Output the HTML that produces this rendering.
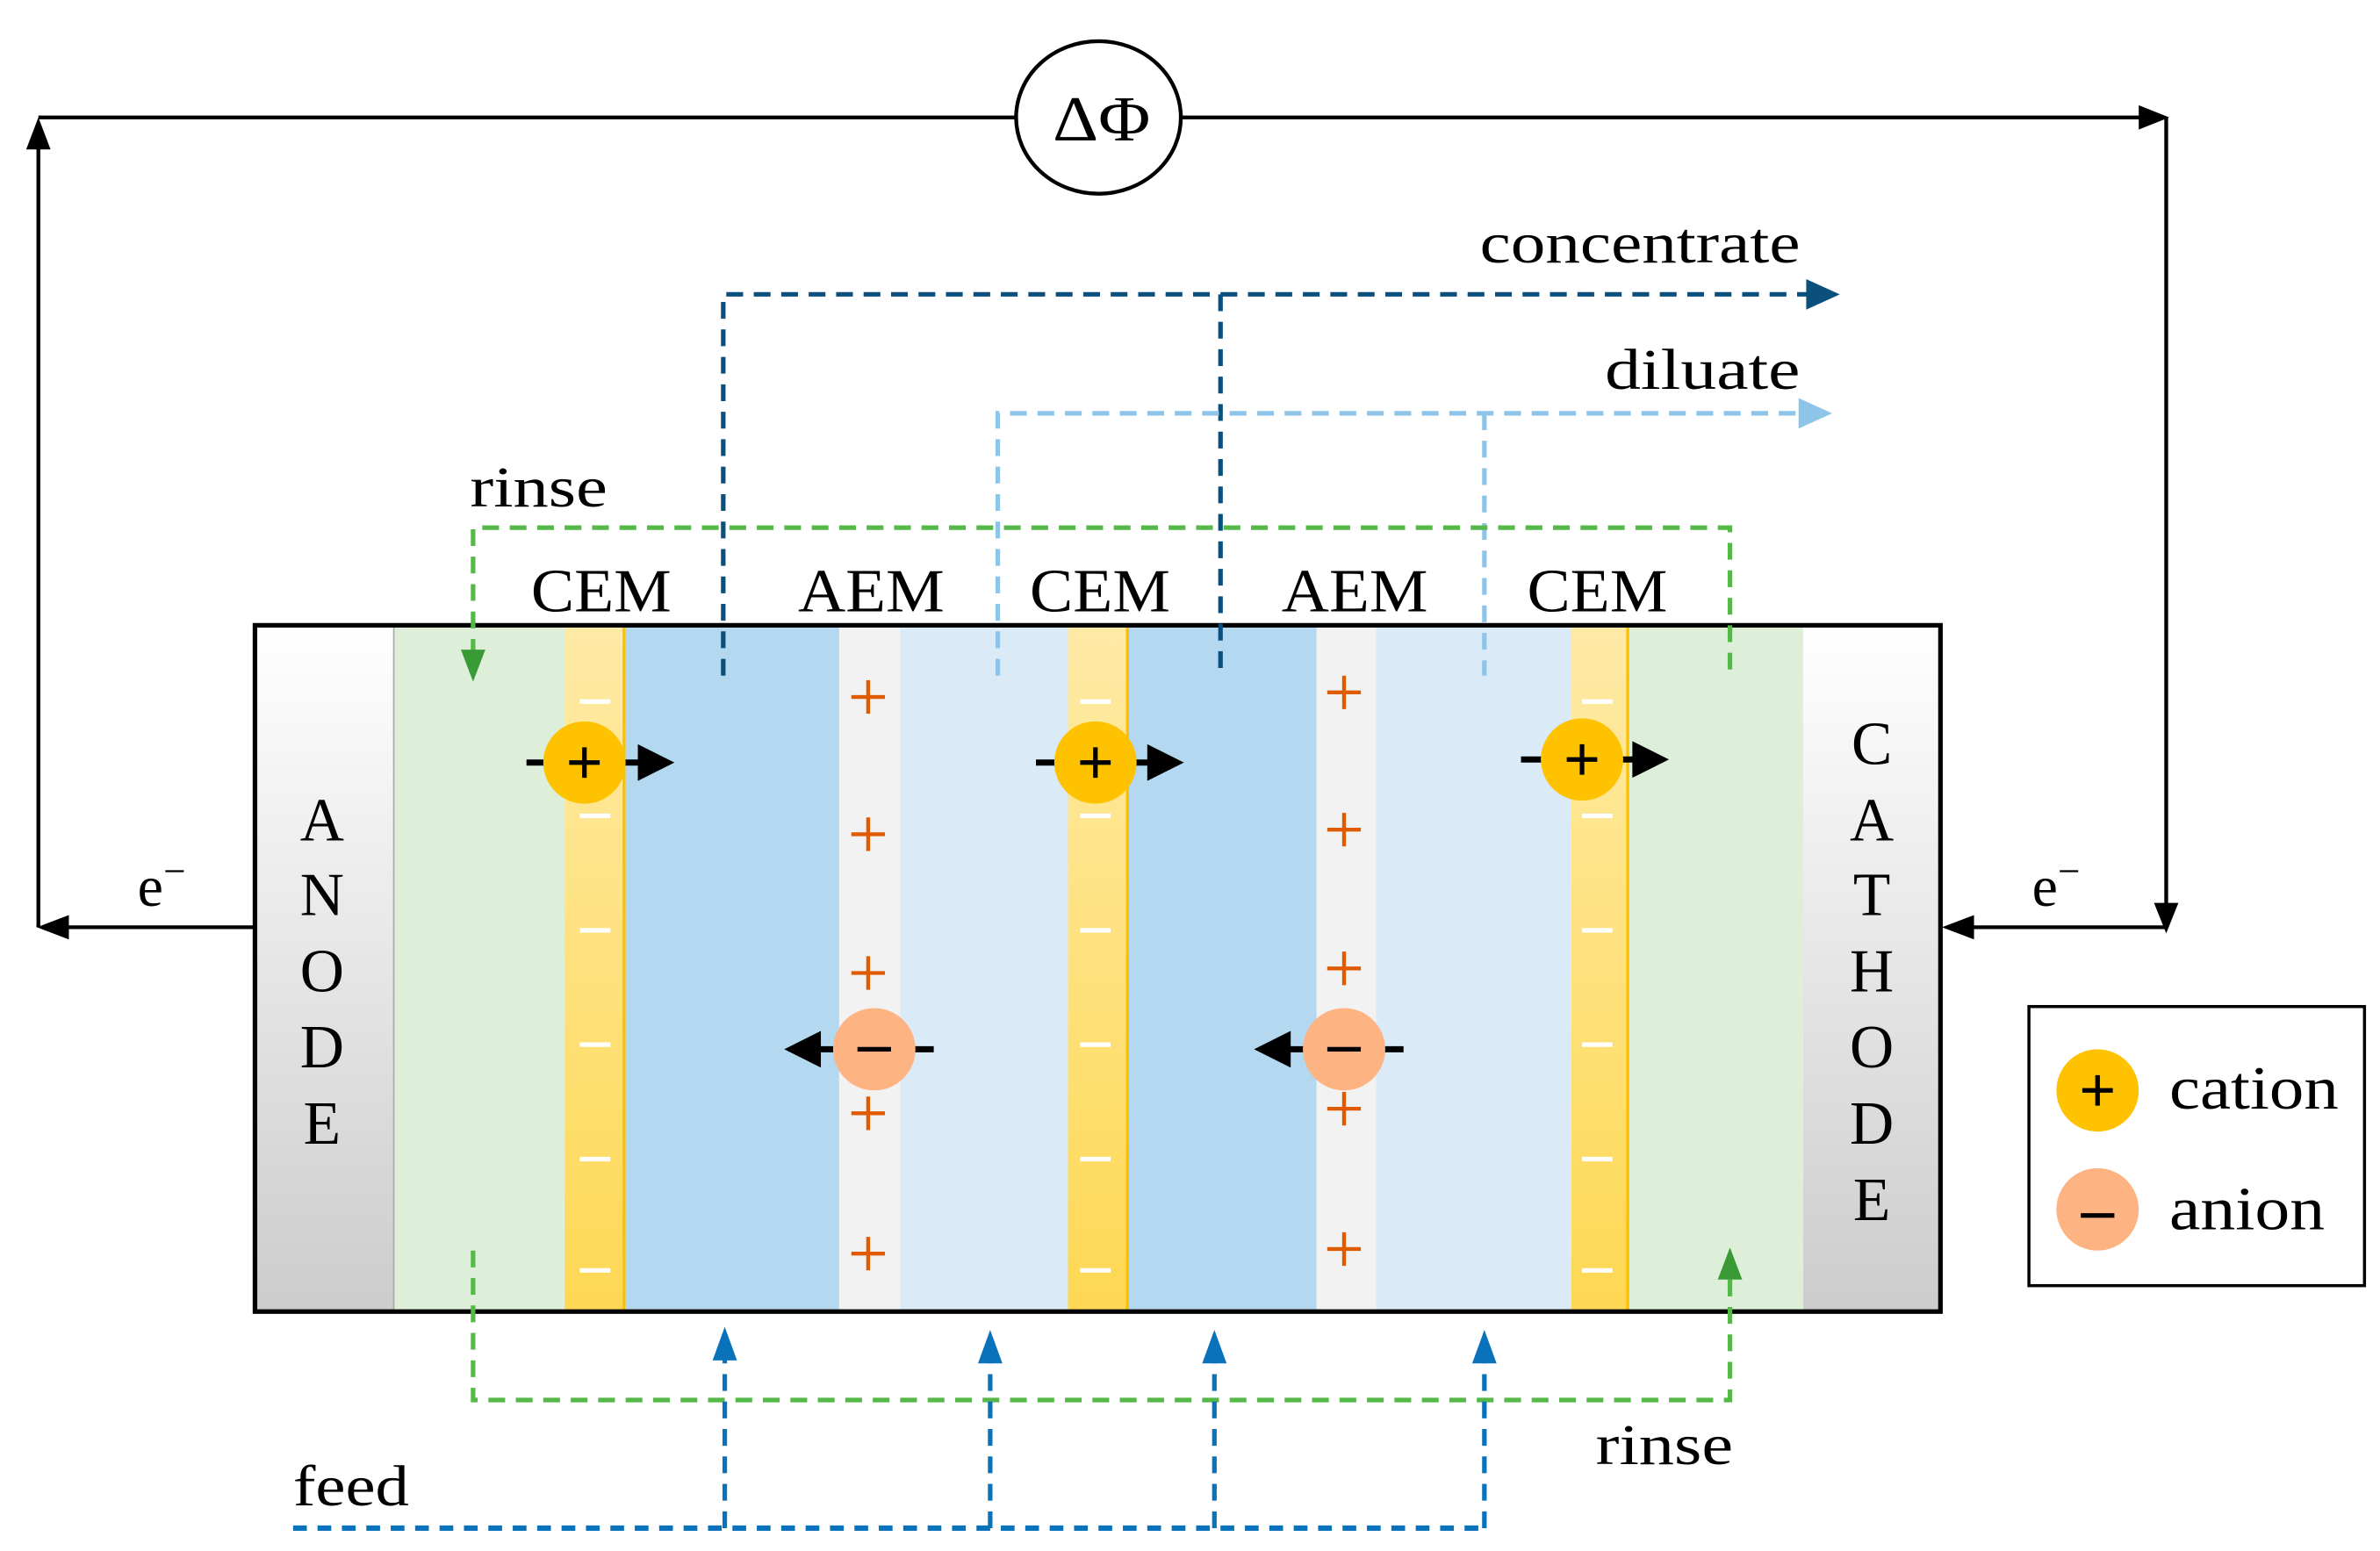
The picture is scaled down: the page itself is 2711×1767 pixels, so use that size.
<!DOCTYPE html>
<html><head><meta charset="utf-8"><style>
html,body{margin:0;padding:0;background:#fff;}
svg{display:block;}
text{font-family:"Liberation Serif",serif;}
</style></head><body>
<svg width="2711" height="1767" viewBox="0 0 1560 1017" xmlns="http://www.w3.org/2000/svg">
<defs>
<linearGradient id="gE" x1="0" y1="0" x2="0" y2="1"><stop offset="0" stop-color="#ffffff"/><stop offset="1" stop-color="#cccccc"/></linearGradient>
<linearGradient id="gY" x1="0" y1="0" x2="0" y2="1"><stop offset="0" stop-color="#feeaa6"/><stop offset="1" stop-color="#fed853"/></linearGradient>
</defs>
<!-- cell -->
<rect x="167" y="410" width="91" height="450" fill="url(#gE)"/>
<rect x="258" y="410" width="112" height="450" fill="#ddefd9"/>
<rect x="370" y="410" width="40" height="450" fill="url(#gY)"/>
<rect x="408" y="410" width="2" height="450" fill="#fdc000"/>
<rect x="410" y="410" width="140" height="450" fill="#b4d8ef"/>
<rect x="550" y="410" width="40" height="450" fill="#f2f2f2"/>
<rect x="590" y="410" width="110" height="450" fill="#daebf7"/>
<rect x="700" y="410" width="40" height="450" fill="url(#gY)"/>
<rect x="738" y="410" width="2" height="450" fill="#fdc000"/>
<rect x="740" y="410" width="123" height="450" fill="#b4d8ef"/>
<rect x="863" y="410" width="39" height="450" fill="#f2f2f2"/>
<rect x="902" y="410" width="128" height="450" fill="#daebf7"/>
<rect x="1030" y="410" width="38" height="450" fill="url(#gY)"/>
<rect x="1066" y="410" width="2" height="450" fill="#fdc000"/>
<rect x="1068" y="410" width="114" height="450" fill="#ddefd9"/>
<rect x="1182" y="410" width="90" height="450" fill="url(#gE)"/>
<line x1="258" y1="410" x2="258" y2="860" stroke="#aaa" stroke-width="1"/>
<rect x="167" y="410" width="1105" height="450" fill="none" stroke="#000" stroke-width="3"/>
<!-- minus signs on CEMs -->
<g stroke="#fff" stroke-width="3">
<g id="mm"><line x1="380" y1="460" x2="400" y2="460"/><line x1="380" y1="535" x2="400" y2="535"/><line x1="380" y1="610" x2="400" y2="610"/><line x1="380" y1="685" x2="400" y2="685"/><line x1="380" y1="760" x2="400" y2="760"/><line x1="380" y1="833" x2="400" y2="833"/></g>
<use href="#mm" x="328"/><use href="#mm" x="657"/>
</g>
<!-- plus signs on AEMs -->
<g stroke="#e05a00" stroke-width="2.5">
<g id="pp"><path d="M558,457h22M569,446v22"/><path d="M558,547h22M569,536v22"/><path d="M558,638h22M569,627v22"/><path d="M558,730h22M569,719v22"/><path d="M558,822h22M569,811v22"/></g>
<use href="#pp" x="312" y="-3"/>
</g>
<!-- ANODE / CATHODE -->
<g font-size="40" text-anchor="middle">
<text x="211" y="551">A</text><text x="211" y="600">N</text><text x="211" y="650">O</text><text x="211" y="700">D</text><text x="211" y="750">E</text>
<text x="1227" y="501">C</text><text x="1227" y="551">A</text><text x="1227" y="600">T</text><text x="1227" y="650">H</text><text x="1227" y="700">O</text><text x="1227" y="750">D</text><text x="1227" y="800">E</text>
</g>
<!-- membrane labels -->
<g font-size="40">
<text x="348" y="401" textLength="92" lengthAdjust="spacingAndGlyphs">CEM</text>
<text x="523" y="401" textLength="96" lengthAdjust="spacingAndGlyphs">AEM</text>
<text x="675" y="401" textLength="92" lengthAdjust="spacingAndGlyphs">CEM</text>
<text x="840" y="401" textLength="96" lengthAdjust="spacingAndGlyphs">AEM</text>
<text x="1001" y="401" textLength="92" lengthAdjust="spacingAndGlyphs">CEM</text>
</g>
<!-- ion movement -->
<g stroke="#000" stroke-width="4">
<line x1="345" y1="500" x2="428" y2="500"/><line x1="679" y1="500" x2="762" y2="500"/><line x1="997" y1="498" x2="1080" y2="498"/>
<line x1="530" y1="688" x2="612" y2="688"/><line x1="838" y1="688" x2="920" y2="688"/>
</g>
<g fill="#000">
<path d="M418,488 L442,500 L418,512z"/><path d="M752,488 L776,500 L752,512z"/><path d="M1070,486 L1094,498 L1070,510z"/>
<path d="M538,676 L514,688 L538,700z"/><path d="M846,676 L822,688 L846,700z"/>
</g>
<g fill="#fec200"><circle cx="383" cy="500" r="27"/><circle cx="718" cy="500" r="27"/><circle cx="1037" cy="498" r="27"/></g>
<g fill="#feb382"><circle cx="573" cy="688" r="27"/><circle cx="881" cy="688" r="27"/></g>
<g stroke="#000" stroke-width="3">
<path d="M373,500h20M383,490v20"/><path d="M708,500h20M718,490v20"/><path d="M1027,498h20M1037,488v20"/>
<path d="M562,688h22"/><path d="M870,688h22"/>
</g>
<!-- power circuit -->
<g stroke="#000" stroke-width="2.5" fill="none">
<line x1="25" y1="77" x2="666" y2="77"/><line x1="775" y1="77" x2="1410" y2="77"/>
<line x1="25" y1="608" x2="25" y2="90"/>
<line x1="1420" y1="77" x2="1420" y2="598"/>
<line x1="167" y1="608" x2="37" y2="608"/>
<line x1="1420" y1="608" x2="1284" y2="608"/>
<ellipse cx="720" cy="77" rx="54" ry="50"/>
</g>
<g fill="#000">
<path d="M25,77 L17,98 L33,98z"/><path d="M1422,77 L1402,69 L1402,85z"/>
<path d="M1420,612 L1412,592 L1428,592z"/><path d="M24,608 L45,600 L45,616z"/><path d="M1273,608 L1294,600 L1294,616z"/>
</g>
<text x="690" y="92" font-size="42" textLength="64" lengthAdjust="spacingAndGlyphs">ΔΦ</text>
<text x="90" y="594" font-size="38">e<tspan font-size="26" dy="-14">−</tspan></text>
<text x="1332" y="594" font-size="38">e<tspan font-size="26" dy="-14">−</tspan></text>
<!-- concentrate -->
<g stroke="#0b4f7c" stroke-width="3" fill="none" stroke-dasharray="11,7">
<path d="M474,443 V193 H1190"/><path d="M800,193 V443"/>
</g>
<path d="M1206,193 L1184,183 L1184,203z" fill="#0b4f7c"/>
<text x="970" y="172" font-size="38" textLength="210" lengthAdjust="spacingAndGlyphs">concentrate</text>
<!-- diluate -->
<g stroke="#8ec4e8" stroke-width="3" fill="none" stroke-dasharray="11,7">
<path d="M654,443 V271 H1185"/><path d="M973,271 V443"/>
</g>
<path d="M1201,271 L1179,261 L1179,281z" fill="#8ec4e8"/>
<text x="1052" y="255" font-size="38" textLength="128" lengthAdjust="spacingAndGlyphs">diluate</text>
<!-- rinse top -->
<g stroke="#55b848" stroke-width="3" fill="none" stroke-dasharray="11,7">
<path d="M310,430 V346 H1134 V445"/>
</g>
<path d="M310,447 L302,426 L318,426z" fill="#3a9a35"/>
<text x="308" y="332" font-size="38" textLength="90" lengthAdjust="spacingAndGlyphs">rinse</text>
<!-- rinse bottom -->
<g stroke="#55b848" stroke-width="3" fill="none" stroke-dasharray="11,7">
<path d="M310,820 V918 H1134 V838"/>
</g>
<path d="M1134,818 L1126,839 L1142,839z" fill="#3a9a35"/>
<text x="1046" y="960" font-size="38" textLength="90" lengthAdjust="spacingAndGlyphs">rinse</text>
<!-- feed -->
<g stroke="#0a72bb" stroke-width="3.5" fill="none" stroke-dasharray="9,7">
<path d="M192,1002 H973"/>
</g>
<g stroke="#0a72bb" stroke-width="3" fill="none" stroke-dasharray="11,7">
<path d="M475,1002 V885"/><path d="M649,1002 V885"/><path d="M796,1002 V885"/><path d="M973,1002 V885"/>
</g>
<g fill="#0a72bb">
<path d="M475,870 L467,892 L483,892z"/><path d="M649,872 L641,894 L657,894z"/><path d="M796,872 L788,894 L804,894z"/><path d="M973,872 L965,894 L981,894z"/>
</g>
<text x="192" y="987" font-size="38" textLength="76" lengthAdjust="spacingAndGlyphs">feed</text>
<!-- legend -->
<rect x="1330" y="660" width="220" height="183" fill="#fff" stroke="#000" stroke-width="2"/>
<circle cx="1375" cy="715" r="27" fill="#fec200"/>
<path d="M1365,715h20M1375,705v20" stroke="#000" stroke-width="3"/>
<circle cx="1375" cy="793" r="27" fill="#feb382"/>
<path d="M1364,797h22" stroke="#000" stroke-width="3"/>
<text x="1422" y="727" font-size="40" textLength="111" lengthAdjust="spacingAndGlyphs">cation</text>
<text x="1422" y="806" font-size="40" textLength="102" lengthAdjust="spacingAndGlyphs">anion</text>
</svg>
</body></html>
